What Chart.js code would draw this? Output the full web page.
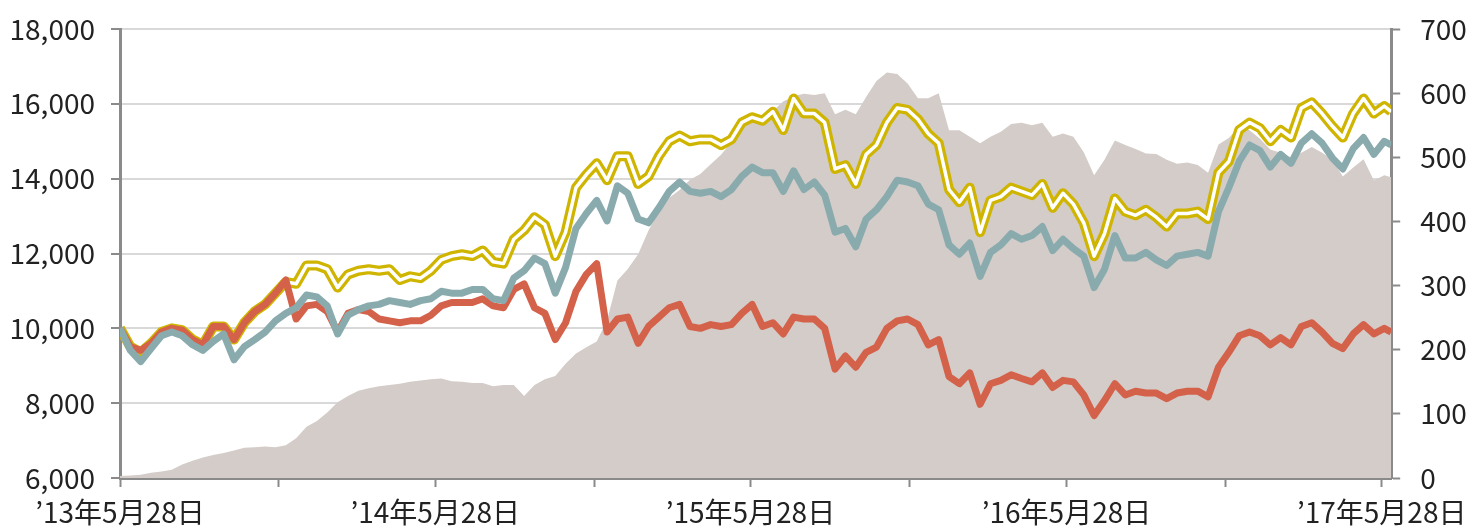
<!DOCTYPE html>
<html>
<head>
<meta charset="utf-8">
<script src="https://cdn.jsdelivr.net/npm/chart.js@4/dist/chart.umd.min.js"></script>
<style>
html,body{margin:0;padding:0;background:#ffffff;}
#wrap{width:1476px;height:530px;}
</style>
</head>
<body>
<div id="wrap"><canvas id="c" width="1476" height="530"></canvas></div>
<script>
// Days elapsed since 2013-05-28 for each sample
const days = [0,12,24,36,48,60,72,84,96,108,120,132,144,156,168,180,192,204,216,228,240,252,264,276,288,300,312,324,336,348,360,372,384,396,408,420,432,444,456,468,480,492,504,516,528,540,552,564,576,588,600,612,624,636,648,660,672,684,696,708,720,732,744,756,768,780,792,804,816,828,840,852,864,876,888,900,912,924,936,948,960,972,984,996,1008,1020,1032,1044,1056,1068,1080,1092,1104,1116,1128,1140,1152,1164,1176,1188,1200,1212,1224,1236,1248,1260,1272,1284,1296,1308,1320,1332,1344,1356,1368,1380,1392,1404,1416,1428,1440,1452,1464,1472];

// Series on the left axis
const redSeries = [10000,9510,9410,9600,9900,10000,9950,9700,9560,10050,
10050,9700,10150,10450,10640,10940,11290,10250,10600,10640,
10450,9900,10400,10500,10450,10250,10200,10150,10200,10200,
10350,10600,10690,10690,10690,10790,10600,10550,11040,11190,
10550,10400,9700,10150,10990,11440,11730,9900,10250,10300,
9600,10050,10300,10550,10640,10050,10000,10100,10050,10100,
10400,10640,10050,10150,9850,10300,10250,10250,10000,8910,
9260,8960,9360,9500,10000,10200,10250,10100,9560,9700,
8710,8520,8810,7970,8520,8610,8760,8660,8570,8810,
8420,8610,8570,8220,7670,8070,8520,8220,8320,8270,
8270,8120,8270,8320,8320,8170,8960,9360,9800,9900,
9800,9560,9750,9560,10050,10150,9900,9600,9460,9850,
10100,9850,10000,9900];

const tealSeries = [10000,9410,9110,9460,9800,9900,9800,9560,9410,9650,
9850,9160,9510,9700,9900,10200,10400,10550,10890,10840,
10600,9850,10350,10500,10600,10640,10740,10690,10640,10740,
10790,10990,10940,10940,11040,11040,10790,10740,11340,11540,
11880,11730,10940,11630,12670,13070,13420,12870,13810,13610,
12920,12820,13220,13660,13910,13660,13610,13660,13520,13710,
14060,14310,14160,14160,13660,14210,13710,13910,13560,12570,
12670,12180,12920,13170,13520,13960,13910,13810,13320,13170,
12230,11980,12280,11390,12030,12230,12530,12380,12480,12720,
12080,12380,12130,11930,11090,11580,12480,11880,11880,12030,
11830,11680,11930,11980,12030,11930,13120,13760,14460,14900,
14750,14310,14650,14410,14950,15200,14950,14550,14260,14800,
15100,14650,15000,14900];

const yellowSeries = [10000,9510,9360,9600,9900,10000,9950,9700,9560,10050,
10050,9700,10150,10450,10640,10940,11240,11190,11680,11680,
11580,11090,11440,11540,11580,11540,11580,11290,11390,11340,
11540,11830,11930,11980,11930,12080,11780,11730,12380,12620,
12970,12770,11930,12570,13760,14110,14410,13960,14600,14600,
13860,14060,14600,15000,15150,15000,15050,15050,14900,15050,
15500,15640,15550,15790,15300,16140,15740,15740,15500,14260,
14360,13860,14650,14900,15500,15890,15840,15590,15200,14950,
13710,13370,13760,12570,13420,13520,13760,13660,13560,13860,
13220,13610,13320,12820,11930,12530,13470,13120,13020,13170,
12970,12720,13070,13070,13120,12920,14160,14460,15300,15500,
15350,15000,15300,15100,15890,16040,15740,15400,15100,15740,
16140,15740,15940,15790];

// Series on the right axis (area)
const areaSeries = [3,4,5,8,10,13,21,27,32,36,
39,43,47,48,49,48,51,62,80,89,
102,118,128,136,140,143,145,147,150,152,
154,155,151,150,148,148,143,145,145,128,
145,154,159,178,194,204,213,246,308,326,
349,386,416,437,449,465,474,489,504,524,
549,557,562,572,587,595,599,597,600,567,
574,567,594,619,632,630,615,592,592,600,
542,542,532,522,532,540,552,554,550,554,
532,537,532,508,472,496,526,519,513,506,
505,496,490,492,488,476,520,530,548,542,
529,512,507,500,507,516,507,496,470,484,
497,464,472,469];

// Axis ticks
const xTickDays = [0,184,365,549,730,914,1096,1280,1461];
const xTickLabels = ['’13年5月28日','','’14年5月28日','','’15年5月28日','','’16年5月28日','','’17年5月28日'];
const leftTicks = [6000,8000,10000,12000,14000,16000,18000];
const rightTicks = [0,100,200,300,400,500,600,700];

const FONT = {family:"'Noto Sans CJK JP','Noto Sans',sans-serif", size:28};
const TXT = '#222222';
const AXIS = '#8a8a8a';

const pts = arr => days.map((d,i)=>({x:d, y:arr[i]}));

function fixY(width) {
  return s => { s.width = width; s.paddingTop = 0; s.paddingBottom = 0; };
}

new Chart(document.getElementById('c'), {
  type:'line',
  data:{
    datasets:[
      {label:'area', data:pts(areaSeries), yAxisID:'yR', fill:'origin', backgroundColor:'#d3ccc9', borderWidth:0, borderColor:'rgba(0,0,0,0)', pointRadius:0, order:10},
      {label:'yellow', data:pts(yellowSeries), yAxisID:'yL', borderColor:'#cfb400', borderWidth:10, pointRadius:0, fill:false, order:5, borderJoinStyle:'round'},
      {label:'yellow-inner', data:pts(yellowSeries), yAxisID:'yL', borderColor:'#ffffff', borderWidth:3.5, pointRadius:0, fill:false, order:4, borderJoinStyle:'round'},
      {label:'red', data:pts(redSeries), yAxisID:'yL', borderColor:'#d4614a', borderWidth:7, pointRadius:0, fill:false, order:3, borderJoinStyle:'round'},
      {label:'teal', data:pts(tealSeries), yAxisID:'yL', borderColor:'#8aabad', borderWidth:7, pointRadius:0, fill:false, order:2, borderJoinStyle:'round'}
    ]
  },
  options:{
    responsive:false,
    devicePixelRatio:1,
    animation:false,
    layout:{padding:{top:29,left:0,right:0,bottom:0}},
    plugins:{legend:{display:false}, tooltip:{enabled:false}, title:{display:false}},
    elements:{line:{tension:0}},
    scales:{
      x:{
        type:'linear', min:0, max:1472,
        afterBuildTicks: s => { s.ticks = xTickDays.map(v=>({value:v})); },
        afterFit: s => { s.height = 52; },
        border:{color:AXIS, width:3},
        grid:{drawOnChartArea:false, tickLength:9, tickColor:AXIS, tickWidth:2, color:AXIS},
        ticks:{autoSkip:false, maxRotation:0, padding:9, color:TXT, font:FONT,
          callback:(v,i)=> xTickLabels[i] }
      },
      yL:{
        position:'left', min:6000, max:18000,
        afterBuildTicks: s => { s.ticks = leftTicks.map(v=>({value:v})); },
        afterFit: fixY(120),
        border:{color:AXIS, width:3},
        grid:{color: c => (c.tick && c.tick.value===6000) ? 'rgba(0,0,0,0)' : '#d9d9d9', lineWidth:2, tickLength:9, tickColor:AXIS, tickWidth:2},
        ticks:{padding:16, color:TXT, font:FONT, callback:v=>v.toLocaleString('en-US')}
      },
      yR:{
        position:'right', min:0, max:700,
        afterBuildTicks: s => { s.ticks = rightTicks.map(v=>({value:v})); },
        afterFit: fixY(76),
        border:{color:AXIS, width:3},
        grid:{drawOnChartArea:false, tickLength:9, tickColor:AXIS, tickWidth:2},
        ticks:{padding:20, color:TXT, font:FONT, callback:v=>String(v)}
      }
    }
  }
});
</script>
</body>
</html>
